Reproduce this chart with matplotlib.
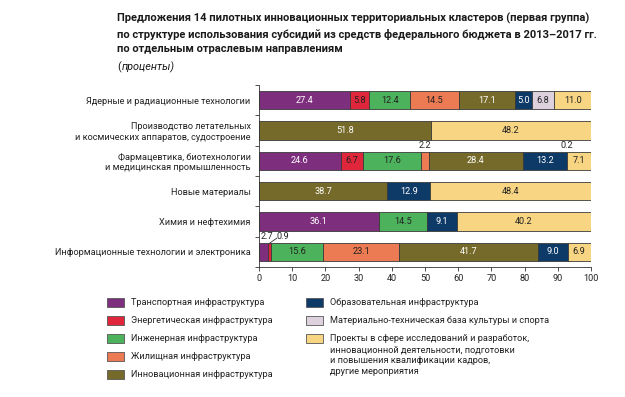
import numpy as np
import matplotlib.pyplot as plt
from matplotlib.patches import Rectangle

plt.rcParams['font.family'] = ['Roboto', 'DejaVu Sans']

categories = ['Ядерные и радиационные технологии',
              'Производство летательных\nи космических аппаратов, судостроение',
              'Фармацевтика, биотехнологии\nи медицинская промышленность',
              'Новые материалы',
              'Химия и нефтехимия',
              'Информационные технологии и электроника']

series = ['Транспортная инфраструктура',
          'Энергетическая инфраструктура',
          'Инженерная инфраструктура',
          'Жилищная инфраструктура',
          'Инновационная инфраструктура',
          'Образовательная инфраструктура',
          'Материально-техническая база культуры и спорта',
          'Проекты в сфере исследований и разработок,\nинновационной деятельности, подготовки\nи повышения квалификации кадров,\nдругие мероприятия']

transport = [27.4, 0, 24.6, 0, 36.1, 2.7]
energy = [5.8, 0, 6.7, 0, 0, 0.9]
engineering = [12.4, 0, 17.6, 0, 14.5, 15.6]
housing = [14.5, 0, 2.2, 0, 0, 23.1]
innovation = [17.1, 51.8, 28.4, 38.7, 0, 41.7]
education = [5.0, 0, 13.2, 12.9, 9.1, 9.0]
culture = [6.8, 0, 0.2, 0, 0, 0]
research = [11.0, 48.2, 7.1, 48.4, 40.2, 6.9]

colors = ['#7d2e7d', '#e0263a', '#4cb25c', '#ec7a52', '#756a2a', '#0e3a67', '#ddd1de', '#f8d583']
text_colors = ['white', '#222222', '#222222', '#222222', 'white', 'white', '#222222', '#222222']

data = np.array([transport, energy, engineering, housing, innovation, education, culture, research])

FS = 6.6

fig = plt.figure(figsize=(6.25, 3.97), dpi=100)
ax = fig.add_axes([0.4144, 0.3275, 0.5312, 0.4585])

y = np.arange(len(categories))
left = np.zeros(len(categories))
for i in range(len(series)):
    vals = data[i]
    ax.barh(y, vals, left=left, height=0.6, color=colors[i],
            edgecolor='#3a3a3a', linewidth=0.6)
    for j, v in enumerate(vals):
        if v >= 3:
            ax.text(left[j] + v / 2, y[j], f'{v:.1f}', ha='center', va='center',
                    fontsize=FS, color=text_colors[i])
    left += vals

# small values written above the bars
ax.text(transport[2] + energy[2] + engineering[2] + housing[2] / 2, 1.5, '2.2',
        ha='center', va='center', fontsize=FS, color='#222222')
x02 = 100 - research[2] - culture[2] / 2
ax.text(x02, 1.5, '0.2', ha='center', va='center', fontsize=FS, color='#222222')
ax.text(transport[5] / 2 + 1.0, 4.5, '2.7', ha='center', va='center', fontsize=FS,
        color='#222222')
ax.text(transport[5] + energy[5] / 2 + 4.0, 4.5, '0.9', ha='center', va='center',
        fontsize=FS, color='#222222')
ax.plot([transport[5] + energy[5] / 2, transport[5] + energy[5] / 2 + 2.2], [4.72, 4.55],
        color='#333333', linewidth=0.6)

ax.set_xlim(0, 100)
ax.set_ylim(5.5, -0.5)
ax.set_xticks(np.arange(0, 101, 10))
ax.set_yticks(y)
ax.set_yticklabels(categories, fontsize=FS, color='#222222', ha='right')
ax.set_yticks(np.arange(-0.5, 6, 1), minor=True)
ax.tick_params(axis='y', which='major', length=0, pad=6)
ax.tick_params(axis='y', which='minor', length=3, width=0.6, color='#333333')
ax.tick_params(axis='x', length=3, width=0.6, color='#333333', labelsize=FS,
               labelcolor='#222222', pad=2)
for s in ['top', 'right']:
    ax.spines[s].set_visible(False)
for s in ['left', 'bottom']:
    ax.spines[s].set_linewidth(0.6)
    ax.spines[s].set_color('#333333')

fig.text(0.1872, 0.968, 'Предложения 14 пилотных инновационных территориальных кластеров (первая группа)\n'
         'по структуре использования субсидий из средств федерального бюджета в 2013–2017 гг.\n'
         'по отдельным отраслевым направлениям',
         ha='left', va='top', fontsize=8.05, fontweight='bold', color='#1a1a1a', linespacing=1.55)
fig.text(0.1872, 0.845, '(', ha='left', va='top', fontsize=7.8, color='#1a1a1a')
fig.text(0.1955, 0.845, 'проценты)', ha='left', va='top', fontsize=7.8, style='italic', color='#1a1a1a')

# legend drawn in figure coordinates
W, H = 625, 397
col_x = [107, 306]
row_y = [303, 321, 339, 357, 375]
positions = [(0, 0), (0, 1), (0, 2), (0, 3), (0, 4), (1, 0), (1, 1), (1, 2)]
for i, (c, r) in enumerate(positions):
    px, py = col_x[c], row_y[r]
    fig.add_artist(Rectangle((px / W, 1 - (py + 4) / H), 17 / W, 9 / H,
                             transform=fig.transFigure, facecolor=colors[i],
                             edgecolor='#555555', linewidth=0.6))
    fig.text((px + 24) / W, 1 - (py - 5) / H, series[i], ha='left', va='top',
             fontsize=FS, color='#222222', linespacing=1.3)

fig.savefig('out.png', dpi=100)
